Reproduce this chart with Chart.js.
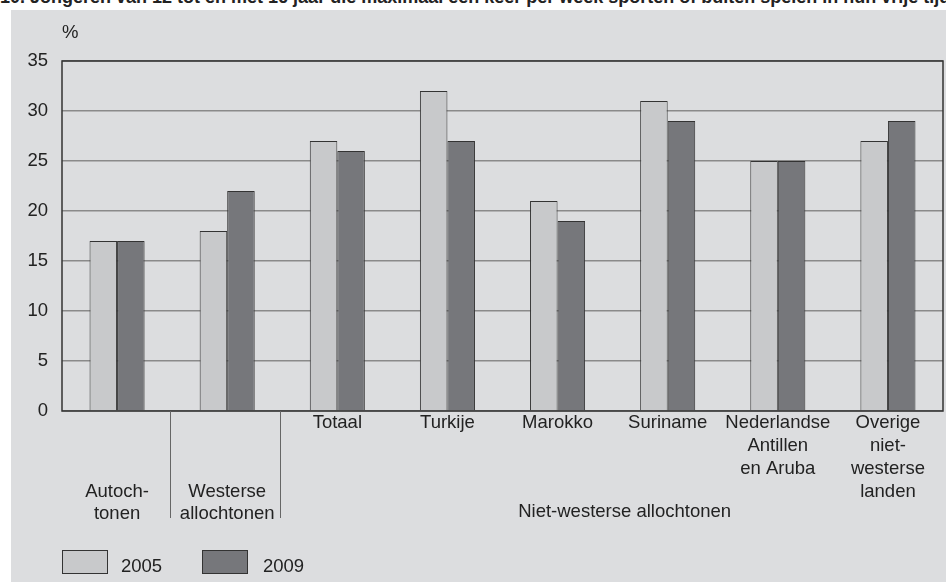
<!DOCTYPE html>
<html>
<head>
<meta charset="utf-8">
<script src="https://cdn.jsdelivr.net/npm/chart.js@4.4.1/dist/chart.umd.min.js"></script>
<style>
  body { margin: 0; background: #fff; width: 946px; height: 582px; overflow: hidden; position: relative; font-family: "Liberation Sans", Arial, sans-serif; }
  #title { position: absolute; left: 0; top: -13px; font-weight: bold; font-size: 18px; white-space: nowrap; color: #222; }
  #panel { position: absolute; left: 11px; top: 10px; width: 935px; height: 572px; background: #dcdddf; }
  #chart { position: absolute; left: 0; top: 0; }
  .legend { position: absolute; top: 540px; font-size: 18.5px; color: #222; }
  .legend span.box { position: absolute; top: 0; width: 44px; height: 22px; border: 1px solid #333; }
  .legend span.lbl { position: absolute; top: 5px; }
</style>
</head>
<body>
<div id="title">10. Jongeren van 12 tot en met 16 jaar die maximaal een keer per week sporten of buiten spelen in hun vrije tijd</div>
<div id="panel">
  <canvas id="chart" width="935" height="572"></canvas>
  <div class="legend" style="left:51px"><span class="box" style="background:#c8c9cb"></span><span class="lbl" style="left:59px">2005</span></div>
  <div class="legend" style="left:191px"><span class="box" style="background:#76777b"></span><span class="lbl" style="left:61px">2009</span></div>
</div>
<script>
// Data
const categories = [
    ["", "", "", "Autoch-", "tonen"],
    ["", "", "", "Westerse", "allochtonen"],
    ["Totaal"],
    ["Turkije"],
    ["Marokko"],
    ["Suriname"],
    ["Nederlandse", "Antillen", "en Aruba"],
    ["Overige", "niet-", "westerse", "landen"]
];
const values2005 = [17, 18, 27, 32, 21, 31, 25, 27];
const values2009 = [17, 22, 26, 27, 19, 29, 25, 29];
const groupLabel = "Niet-westerse allochtonen";
const unitLabel = "%";

const fontFamily = '"Liberation Sans", Arial, sans-serif';

// Extra drawing: frame, separators, group label and unit
const extras = {
    id: 'extras',
    afterDraw(chart) {
        const ctx = chart.ctx;
        const a = chart.chartArea;
        const x = chart.scales.x;
        const step = (a.right - a.left) / categories.length;
        ctx.save();
        // plot frame
        ctx.strokeStyle = '#333';
        ctx.lineWidth = 1.5;
        ctx.strokeRect(a.left, a.top, a.right - a.left, a.bottom - a.top);
        // separators between groups
        ctx.strokeStyle = '#666';
        ctx.lineWidth = 1;
        [1, 2].forEach(i => {
            const px = Math.round(a.left + step * i) - 1.5;
            ctx.beginPath();
            ctx.moveTo(px, a.bottom);
            ctx.lineTo(px, a.bottom + 107);
            ctx.stroke();
        });
        ctx.fillStyle = '#222';
        ctx.font = '18.5px ' + fontFamily;
        ctx.textAlign = 'center';
        ctx.textBaseline = 'middle';
        const mid = (x.getPixelForValue(2) + x.getPixelForValue(7)) / 2 + 12;
        ctx.fillText(groupLabel, mid, a.bottom + 101);
        ctx.textAlign = 'left';
        ctx.fillText(unitLabel, a.left, a.top - 28);
        ctx.restore();
    }
};

new Chart(document.getElementById('chart'), {
    type: 'bar',
    data: {
        labels: categories,
        datasets: [{
            label: '2005',
            data: values2005,
            backgroundColor: '#c8c9cb',
            borderColor: '#333',
            borderWidth: 1
        }, {
            label: '2009',
            data: values2009,
            backgroundColor: '#76777b',
            borderColor: '#333',
            borderWidth: 1
        }]
    },
    options: {
        responsive: false,
        animation: false,
        layout: { padding: { top: 51, right: 3, left: 0, bottom: 0 } },
        datasets: { bar: { categoryPercentage: 0.5, barPercentage: 1 } },
        plugins: { legend: { display: false }, tooltip: { enabled: false } },
        scales: {
            x: {
                grid: { display: false, drawTicks: false },
                border: { display: false },
                ticks: {
                    color: '#222',
                    padding: 1,
                    maxRotation: 0,
                    autoSkip: false,
                    font: { family: fontFamily, size: 18.5, lineHeight: 1.23 }
                },
                afterFit(scale) { scale.height = 171; }
            },
            y: {
                min: 0,
                max: 35,
                ticks: {
                    stepSize: 5,
                    color: '#222',
                    padding: 14,
                    font: { family: fontFamily, size: 18.5 }
                },
                grid: { color: '#8a8a8a', lineWidth: 1.5, drawTicks: false },
                border: { display: false },
                afterFit(scale) { scale.width = 51; }
            }
        }
    },
    plugins: [extras]
});
</script>
</body>
</html>
